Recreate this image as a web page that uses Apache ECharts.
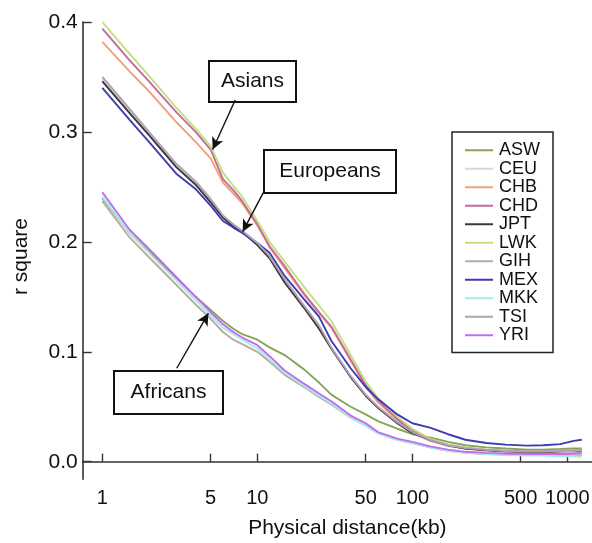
<!DOCTYPE html>
<html>
<head>
<meta charset="utf-8">
<script src="https://cdn.jsdelivr.net/npm/echarts@6/dist/echarts.min.js"></script>
<style>
html,body{margin:0;padding:0;background:#fff;}
#chart{width:592px;height:543px;}
</style>
</head>
<body>
<div id="chart"></div>
<script>
// Physical distance (kb)
const distances = [1,1.5,2,3,4,5,6,7,8,10,12,15,20,25,30,40,50,60,80,100,130,170,220,300,400,550,700,900,1100,1240];

// r square per population
const ASW = [0.240,0.208,0.191,0.167,0.150,0.138,0.128,0.121,0.116,0.111,0.104,0.097,0.084,0.072,0.061,0.050,0.043,0.037,0.030,0.025,0.022,0.018,0.015,0.013,0.012,0.011,0.011,0.0115,0.012,0.012];
const CEU = [0.348,0.319,0.298,0.269,0.253,0.237,0.223,0.215,0.209,0.198,0.186,0.165,0.141,0.123,0.103,0.077,0.060,0.049,0.035,0.026,0.019,0.014,0.012,0.0105,0.0095,0.009,0.009,0.0095,0.010,0.0105];
const CHB = [0.382,0.355,0.337,0.309,0.291,0.276,0.254,0.244,0.235,0.215,0.195,0.176,0.152,0.135,0.122,0.092,0.068,0.054,0.038,0.027,0.019,0.015,0.012,0.010,0.0095,0.009,0.009,0.0095,0.0095,0.010];
const CHD = [0.394,0.365,0.346,0.318,0.300,0.284,0.257,0.247,0.237,0.216,0.196,0.178,0.153,0.136,0.123,0.093,0.070,0.056,0.039,0.028,0.020,0.015,0.012,0.0105,0.0095,0.009,0.009,0.0095,0.0095,0.010];
const JPT = [0.346,0.317,0.297,0.268,0.252,0.236,0.222,0.214,0.209,0.197,0.185,0.163,0.140,0.121,0.103,0.077,0.060,0.049,0.035,0.026,0.020,0.015,0.012,0.0105,0.0095,0.009,0.009,0.0095,0.010,0.0105];
const LWK = [0.400,0.371,0.351,0.322,0.303,0.287,0.263,0.251,0.241,0.219,0.200,0.182,0.159,0.142,0.128,0.097,0.073,0.058,0.041,0.030,0.021,0.016,0.013,0.011,0.010,0.0095,0.0095,0.010,0.010,0.011];
const GIH = [0.237,0.204,0.186,0.161,0.143,0.130,0.118,0.111,0.107,0.100,0.091,0.079,0.068,0.059,0.052,0.040,0.033,0.026,0.020,0.017,0.013,0.010,0.008,0.007,0.0065,0.006,0.006,0.006,0.006,0.006];
const MEX = [0.340,0.311,0.291,0.262,0.248,0.233,0.219,0.213,0.208,0.199,0.190,0.169,0.148,0.132,0.110,0.085,0.068,0.057,0.043,0.035,0.031,0.025,0.020,0.017,0.0155,0.0146,0.015,0.016,0.019,0.020];
const MKK = [0.241,0.208,0.190,0.165,0.147,0.133,0.122,0.116,0.111,0.103,0.093,0.081,0.069,0.060,0.053,0.040,0.033,0.026,0.020,0.017,0.013,0.010,0.008,0.007,0.006,0.0055,0.0055,0.005,0.005,0.0045];
const TSI = [0.350,0.321,0.300,0.271,0.255,0.239,0.224,0.216,0.210,0.199,0.187,0.166,0.142,0.124,0.104,0.078,0.061,0.050,0.036,0.027,0.020,0.015,0.0125,0.011,0.010,0.0095,0.0095,0.010,0.0105,0.011];
const YRI = [0.245,0.211,0.1935,0.168,0.150,0.136,0.125,0.118,0.113,0.106,0.096,0.083,0.071,0.062,0.055,0.042,0.035,0.027,0.021,0.018,0.014,0.011,0.009,0.008,0.0075,0.007,0.007,0.007,0.0075,0.008];

const populations = ['ASW','CEU','CHB','CHD','JPT','LWK','GIH','MEX','MKK','TSI','YRI'];
const values = {ASW,CEU,CHB,CHD,JPT,LWK,GIH,MEX,MKK,TSI,YRI};
const colors = {
  ASW:'#86a45a', CEU:'#d6d6d6', CHB:'#f2a07e', CHD:'#c46a9e', JPT:'#3a3a3a',
  LWK:'#c2e07e', GIH:'#b6ad9e', MEX:'#3c3cb4', MKK:'#a6eaea', TSI:'#b3a0b6', YRI:'#c06cf2'
};

// Tick values
const xTicks = [1,5,10,50,100,500,1000];
const yTicks = [0,0.1,0.2,0.3,0.4];

// Annotation arrows in data coordinates: [tail, tip]
const arrows = [
  [[7.2,0.329],[5.15,0.284]],
  [[11.0,0.2455],[8.05,0.2093]],
  [[3.02,0.085],[4.83,0.135]]
];

const FONT = '"Liberation Sans", Arial, sans-serif';
const INK = '#111';
const chart = echarts.init(document.getElementById('chart'), null, {renderer:'canvas'});

const series = populations.map((p) => {
  const s = {
    name: p,
    type: 'line',
    symbol: 'none',
    showSymbol: false,
    silent: true,
    lineStyle: {width: 1.9, color: colors[p]},
    itemStyle: {color: colors[p]},
    data: distances.map((d, i) => [d, values[p][i]])
  };
  if (p === 'YRI') {
    s.markLine = {
      silent: true,
      symbol: ['none','arrow'],
      symbolSize: [9, 12],
      label: {show: false},
      lineStyle: {color: INK, width: 1.4, type: 'solid'},
      data: arrows.map(a => [{coord: a[0]}, {coord: a[1]}])
    };
  }
  return s;
});

function box(x, y, w, h, text) {
  return {
    type: 'group', left: x, top: y,
    children: [
      {type:'rect', shape:{x:0,y:0,width:w,height:h}, style:{fill:'#fff', stroke:INK, lineWidth:2}},
      {type:'text', x: w/2, y: h/2, style:{text:text, font:'21px ' + FONT, fill:INK, align:'center', verticalAlign:'middle'}}
    ]
  };
}

chart.setOption({
  animation: false,
  backgroundColor: '#fff',
  grid: {left: 82.7, top: 22, right: 0, bottom: 63.7, outerBoundsMode: 'none'},
  xAxis: {
    type: 'log', logBase: 10, min: 0.747, max: 1443,
    name: 'Physical distance(kb)', nameLocation: 'middle', nameGap: 38,
    nameTextStyle: {fontFamily: FONT, fontSize: 21, color: INK, padding: [0,0,0,20]},
    axisLine: {lineStyle: {color: '#333', width: 1.6}},
    axisTick: {inside: true, length: 8, lineStyle: {color: '#333', width: 1.4}, customValues: xTicks},
    axisLabel: {customValues: xTicks, fontFamily: FONT, fontSize: 20, color: INK, margin: 9,
      formatter: v => String(Math.round(v))},
    splitLine: {show: false},
    minorTick: {show: false}
  },
  yAxis: {
    type: 'value', min: -0.016, max: 0.4,
    axisLine: {show: true, lineStyle: {color: '#333', width: 1.6}},
    axisTick: {show: true, inside: true, length: 9, lineStyle: {color: '#333', width: 1.4}, customValues: yTicks},
    axisLabel: {customValues: yTicks, fontFamily: FONT, fontSize: 21, color: INK, margin: 5,
      formatter: v => v.toFixed(1)},
    splitLine: {show: false}
  },
  legend: {
    orient: 'vertical', left: 452, top: 132,
    data: populations,
    icon: 'rect',
    itemWidth: 28, itemHeight: 2, itemGap: 0,
    padding: [9, 13, 8, 13],
    borderColor: '#222', borderWidth: 1.5,
    textStyle: {fontFamily: FONT, fontSize: 18, color: INK, lineHeight: 18.5, padding: [0,0,0,1]},
    selectedMode: false
  },
  graphic: [
    {type:'text', left: 11, top: 218, rotation: Math.PI/2,
      style:{text:'r square', font:'21px ' + FONT, fill:INK}},
    box(208, 60, 87, 41, 'Asians'),
    box(263, 149, 132, 43, 'Europeans'),
    box(113, 370, 109, 43, 'Africans')
  ],
  series: series
});
</script>
</body>
</html>
